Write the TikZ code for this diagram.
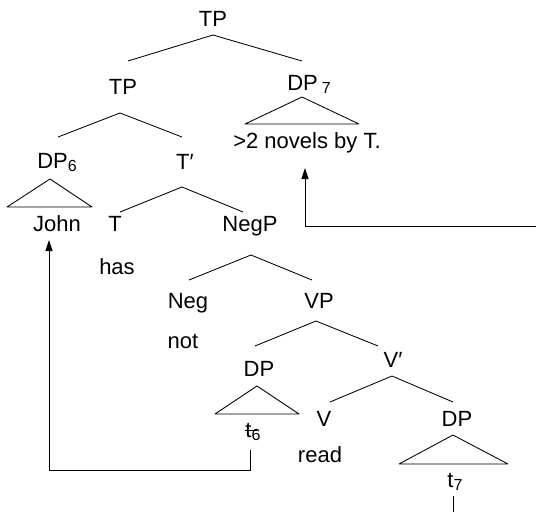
\documentclass[tikz,border=0pt]{standalone}
\usepackage{fontspec}
\setmainfont{Liberation Sans}
\usetikzlibrary{arrows.meta}
% lowered, smaller index digits
\newcommand{\idx}[1]{\raisebox{-3pt}{\fontsize{16}{16}\selectfont #1}}
% struck-out trace letter
\newcommand{\strucktee}{\rlap{\kern-0.5pt\rule[6pt]{12pt}{1pt}}t}
\begin{document}
\begin{tikzpicture}[x=1pt,y=-1pt,
  lbl/.style={anchor=base,inner sep=0pt,font=\fontsize{22}{26}\selectfont},
  branch/.style={line width=0.85pt,line join=round},
  move/.style={line width=0.85pt},
  arr/.style={move,-{Triangle[length=11pt,width=7pt]}}]
\useasboundingbox (0,0) rectangle (536,512);

% labels
\node[lbl] (tp0)  at (213,26)  {TP};
\node[lbl] (tp1)  at (123,94)  {TP};
\node[lbl] (dp7)  at (309,90)  {DP\hspace{4pt}\idx{7}};
\node[lbl] (nov)  at (307,148) {>2 novels by T.};
\node[lbl] (dp6)  at (57,168)  {DP\idx{6}};
\node[lbl] (tbar) at (185,169) {T\char"2032};
\node[lbl] (john) at (57,231)  {John};
\node[lbl] (t)    at (115,231) {T};
\node[lbl] (negp) at (250,231) {NegP};
\node[lbl] (has)  at (117,274) {has};
\node[lbl] (neg)  at (188,308) {Neg};
\node[lbl] (vp)   at (319,308) {VP};
\node[lbl] (not)  at (183,348) {not};
\node[lbl] (dps)  at (259,376) {DP};
\node[lbl] (vbar) at (393,367) {V\char"2032};
\node[lbl] (tsix) at (253,437) {\strucktee\idx{6}};
\node[lbl] (v)    at (324,426) {V};
\node[lbl] (dpo)  at (457,426) {DP};
\node[lbl] (read) at (320,462) {read};
\node[lbl] (tsev) at (455,487) {t\idx{7}};

% branch points
\coordinate (a0) at (213,35);  \coordinate (l0) at (128,61);  \coordinate (r0) at (302,61);
\coordinate (a1) at (120,113); \coordinate (l1) at (58,137);  \coordinate (r1) at (182,137);
\coordinate (a2) at (182,187); \coordinate (l2) at (120,212); \coordinate (r2) at (243,212);
\coordinate (a3) at (251,255); \coordinate (l3) at (189,280); \coordinate (r3) at (312,280);
\coordinate (a4) at (316,321); \coordinate (l4) at (255,346); \coordinate (r4) at (378,346);
\coordinate (a5) at (392,376); \coordinate (l5) at (330,402); \coordinate (r5) at (453,402);

\foreach \i in {0,...,5} \draw[branch] (l\i) -- (a\i) -- (r\i);

% triangles
\draw[branch] (302,97) -- (245,124) -- (359,124) -- cycle;
\draw[branch] (50,179) -- (7,207) -- (92,207) -- cycle;
\draw[branch] (257,386) -- (215,414) -- (299,414) -- cycle;
\draw[branch] (453,435) -- (399,464) -- (508,464) -- cycle;

% movement paths
\coordinate (m6) at (250,450);
\coordinate (j6) at (49,240);
\draw[arr] (m6) -- (250,470) -| (j6);

\coordinate (e7) at (536,226);
\coordinate (h7) at (305,168);
\draw[arr] (e7) -| (h7);

\coordinate (m7) at (453,496);
\coordinate (b7) at (453,512);
\draw[move] (m7) -- (b7);
\end{tikzpicture}
\end{document}
